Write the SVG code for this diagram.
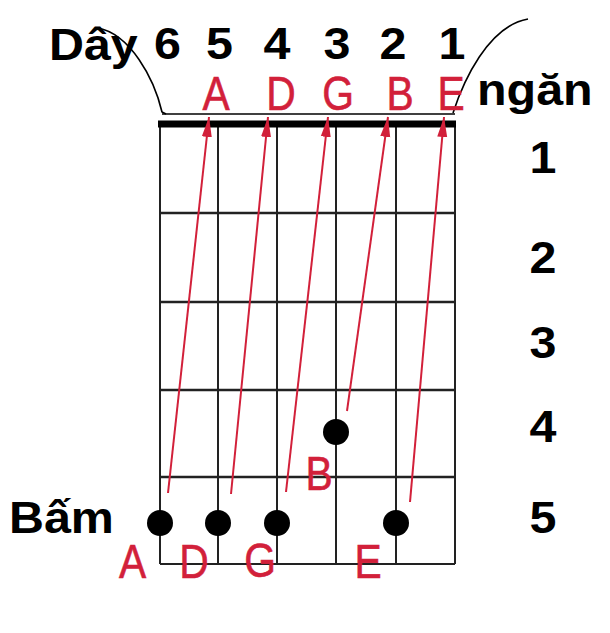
<svg xmlns="http://www.w3.org/2000/svg" width="610" height="633" viewBox="0 0 610 633">
<defs>
<style>
.blk{font-family:"Liberation Sans",Arial,sans-serif;font-weight:bold;font-size:44px;fill:#000}
.red{font-family:"Liberation Sans",Arial,sans-serif;font-size:48px;fill:#d2203a;stroke:#d2203a;stroke-width:0.6;text-anchor:middle}
.mid{text-anchor:middle}
.grid{stroke:#222;stroke-width:2;fill:none}
.fret{stroke:#222;stroke-width:2.6;fill:none}
.arr{stroke:#d2203a;stroke-width:2;fill:none;marker-end:url(#ah)}
.dot{fill:#000}
</style>
<marker id="ah" viewBox="0 0 20 10" refX="20" refY="5" markerWidth="20" markerHeight="11" markerUnits="userSpaceOnUse" orient="auto">
<path d="M0,0 L20,5 L0,10 Z" fill="#d2203a"/>
</marker>
</defs>
<rect width="610" height="633" fill="#fff"/>
<g id="fretboard">
<line class="grid" x1="160" y1="124" x2="160" y2="564"/>
<line class="grid" x1="218" y1="124" x2="218" y2="564"/>
<line class="grid" x1="277" y1="124" x2="277" y2="564"/>
<line class="grid" x1="336" y1="124" x2="336" y2="564"/>
<line class="grid" x1="396" y1="124" x2="396" y2="564"/>
<line class="grid" x1="455" y1="124" x2="455" y2="564"/>
<line class="fret" x1="160" y1="213" x2="455" y2="213"/>
<line class="fret" x1="160" y1="302" x2="455" y2="302"/>
<line class="fret" x1="160" y1="390" x2="455" y2="390"/>
<line class="fret" x1="160" y1="477" x2="455" y2="477"/>
<line class="grid" x1="160" y1="564" x2="455" y2="564"/>
<rect x="158" y="120.5" width="298" height="7" fill="#000"/>
<line x1="162" y1="114" x2="455" y2="114" stroke="#000" stroke-width="1.6"/>
<path d="M98,28 C130,34 154,78 162,112 L166,114" fill="none" stroke="#000" stroke-width="1.6"/>
<path d="M453,113 C463,82 488,26 528,19" fill="none" stroke="#000" stroke-width="1.6"/>
</g>
<g id="connectors">
<line class="arr" x1="168" y1="493" x2="209" y2="117"/>
<line class="arr" x1="231" y1="494" x2="268" y2="117"/>
<line class="arr" x1="286" y1="492" x2="328" y2="117"/>
<line class="arr" x1="347" y1="411" x2="388" y2="117"/>
<line class="arr" x1="410" y1="502" x2="444" y2="117"/>
</g>
<g id="dots">
<circle class="dot" cx="160" cy="523" r="13"/>
<circle class="dot" cx="218" cy="523" r="13"/>
<circle class="dot" cx="277" cy="523" r="13"/>
<circle class="dot" cx="396" cy="523" r="13"/>
<circle class="dot" cx="336" cy="432" r="13"/>
</g>
<g id="header">
<text class="blk" transform="translate(49,60) scale(1.1,1)">Dây</text>
<text class="blk mid" transform="translate(167.5,59) scale(1.1,1)">6</text>
<text class="blk mid" transform="translate(219.5,59) scale(1.1,1)">5</text>
<text class="blk mid" transform="translate(277,59) scale(1.1,1)">4</text>
<text class="blk mid" transform="translate(337,59) scale(1.1,1)">3</text>
<text class="blk mid" transform="translate(393,59) scale(1.1,1)">2</text>
<text class="blk mid" transform="translate(452,59) scale(1.1,1)">1</text>
<text class="blk" transform="translate(477,105) scale(1.1,1)">ngăn</text>
</g>
<g id="open-notes">
<text class="red" transform="translate(216,110) scale(0.85,1)">A</text>
<text class="red" transform="translate(281,110) scale(0.85,1)">D</text>
<text class="red" transform="translate(338,110) scale(0.85,1)">G</text>
<text class="red" transform="translate(400,110) scale(0.85,1)">B</text>
<text class="red" transform="translate(451,110) scale(0.85,1)">E</text>
</g>
<g id="fret-numbers">
<text class="blk mid" transform="translate(543,173) scale(1.1,1)">1</text>
<text class="blk mid" transform="translate(543,273) scale(1.1,1)">2</text>
<text class="blk mid" transform="translate(543,358) scale(1.1,1)">3</text>
<text class="blk mid" transform="translate(543,442) scale(1.1,1)">4</text>
<text class="blk mid" transform="translate(543,533) scale(1.1,1)">5</text>
</g>
<g id="fretted-notes">
<text class="blk" transform="translate(9,533) scale(1.1,1)">Bấm</text>
<text class="red" transform="translate(132.5,578) scale(0.85,1)">A</text>
<text class="red" transform="translate(194,578) scale(0.85,1)">D</text>
<text class="red" transform="translate(260,577) scale(0.85,1)">G</text>
<text class="red" transform="translate(368,578) scale(0.85,1)">E</text>
<text class="red" transform="translate(319,490) scale(0.85,1)">B</text>
</g>
</svg>
